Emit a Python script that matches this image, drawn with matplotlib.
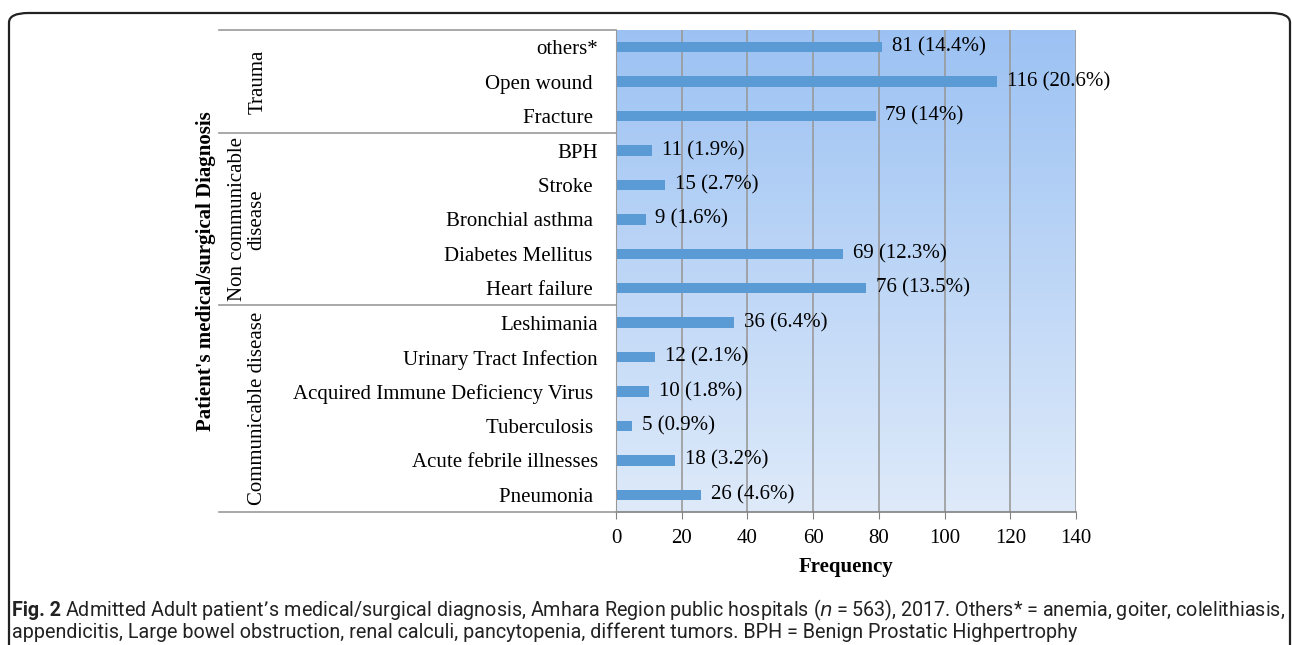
import numpy as np
import matplotlib.pyplot as plt
from matplotlib.colors import LinearSegmentedColormap
from matplotlib.patches import FancyBboxPatch

# data (top to bottom as in the chart)
labels = ["others*", "Open wound ", "Fracture ", "BPH", "Stroke ", "Bronchial asthma ",
          "Diabetes Mellitus ", "Heart failure ", "Leshimania", "Urinary Tract Infection",
          "Acquired Immune Deficiency Virus ", "Tuberculosis ", "Acute febrile illnesses",
          "Pneumonia "]
counts = [81, 116, 79, 11, 15, 9, 69, 76, 36, 12, 10, 5, 18, 26]
pcts = ["14.4%", "20.6%", "14%", "1.9%", "2.7%", "1.6%", "12.3%", "13.5%",
        "6.4%", "2.1%", "1.8%", "0.9%", "3.2%", "4.6%"]
groups = ["Trauma", "Non communicable\ndisease", "Communicable disease"]
group_sizes = [3, 5, 6]
xticks = [0, 20, 40, 60, 80, 100, 120, 140]

W, H = 1292, 645
fig = plt.figure(figsize=(W / 100, H / 100), dpi=100)
serif = "Liberation Serif"
fs = 15

# plot area in pixels
L, R, T, B = 616, 1076, 30, 512
ax = fig.add_axes([L / W, 1 - B / H, (R - L) / W, (B - T) / H])

n = len(labels)
ypos = np.arange(n)
ax.set_ylim(n - 0.5, -0.5)
ax.set_xlim(0, 140)

# gradient background
cmap = LinearSegmentedColormap.from_list("bg", ["#9cc2f3", "#deeafa"])
grad = np.linspace(0, 1, 256).reshape(-1, 1)
ax.imshow(grad, cmap=cmap, extent=[0, 140, n - 0.5, -0.5], aspect="auto", zorder=0)

for xv in xticks[1:]:
    ax.axvline(xv, color="#9a9a9a", lw=1.2, zorder=1)

ax.barh(ypos, counts, height=0.3, color="#5b9bd5", zorder=2)
for y, c, p in zip(ypos, counts, pcts):
    ax.text(c + 3, y, f"{c} ({p})", va="center", ha="left", fontsize=fs,
            family=serif, zorder=3)

ax.set_yticks(ypos)
ax.set_yticklabels(labels, family=serif, fontsize=fs)
ax.tick_params(axis="y", length=0, pad=13)
ax.set_xticks(xticks)
ax.set_xticklabels([str(v) for v in xticks], family=serif, fontsize=fs)
ax.tick_params(axis="x", length=5, color="#808080", direction="out", pad=7)
ax.set_xlabel("Frequency", family=serif, fontsize=fs, fontweight="bold", labelpad=7)

for s in ["top", "right"]:
    ax.spines[s].set_visible(False)
ax.spines["left"].set_color("#9a9a9a")
ax.spines["bottom"].set_color("#808080")
ax.spines["bottom"].set_linewidth(1.2)

# category table on the left
def fx(px):
    return px / W

def fy(py):
    return 1 - py / H

bounds = [T]
row_h = (B - T) / n
acc = 0
for g in group_sizes:
    acc += g
    bounds.append(T + acc * row_h)
for by in bounds:
    fig.add_artist(plt.Line2D([fx(219), fx(L)], [fy(by), fy(by)], color="#9a9a9a", lw=1.2))

gx = [258, 247, 258]
for g, x0, y0, y1 in zip(groups, gx, bounds[:-1], bounds[1:]):
    fig.text(fx(x0), fy((y0 + y1) / 2), g, rotation=90, ha="center", va="center",
             family=serif, fontsize=fs, multialignment="center", linespacing=1.0)

fig.text(fx(206), fy((T + B) / 2), "Patient's medical/surgical Diagnosis", rotation=90,
         ha="center", va="center", family=serif, fontsize=fs, fontweight="bold")

# rounded frame
frame = FancyBboxPatch((fx(9), fy(700)), fx(1290) - fx(9), fy(13) - fy(700),
                       boxstyle="round,pad=0,rounding_size=0.015", transform=fig.transFigure,
                       fill=False, ec="#222222", lw=1.6)
fig.add_artist(frame)

# caption, sized so the first line fills the frame width
cap_font = "Roboto"
cap_col = "#222222"
line1 = ("Admitted Adult patient\u2019s medical/surgical diagnosis, Amhara Region public "
         "hospitals ($n$\u2009=\u2009563), 2017. Others* = anemia, goiter, colelithiasis,")
line2 = ("appendicitis, Large bowel obstruction, renal calculi, pancytopenia, "
         "different tumors. BPH = Benign Prostatic Highpertrophy")
renderer = fig.canvas.get_renderer()
cfs = 12
for _ in range(3):
    t_fig = fig.text(fx(12), fy(610), "Fig. 2", fontweight="bold", fontsize=cfs,
                     family=cap_font, va="center", color=cap_col)
    x_after = t_fig.get_window_extent(renderer).x1 + 0.3 * cfs
    t1 = fig.text(x_after / W, fy(610), line1, fontsize=cfs, family=cap_font,
                  va="center", color=cap_col)
    right = t1.get_window_extent(renderer).x1
    if abs(right - 1284) < 3:
        break
    t_fig.remove()
    t1.remove()
    cfs = cfs * (1284 - 12) / (right - 12)
fig.text(fx(12), fy(632), line2, fontsize=cfs, family=cap_font, va="center", color=cap_col)

fig.savefig("out.png", dpi=100)
